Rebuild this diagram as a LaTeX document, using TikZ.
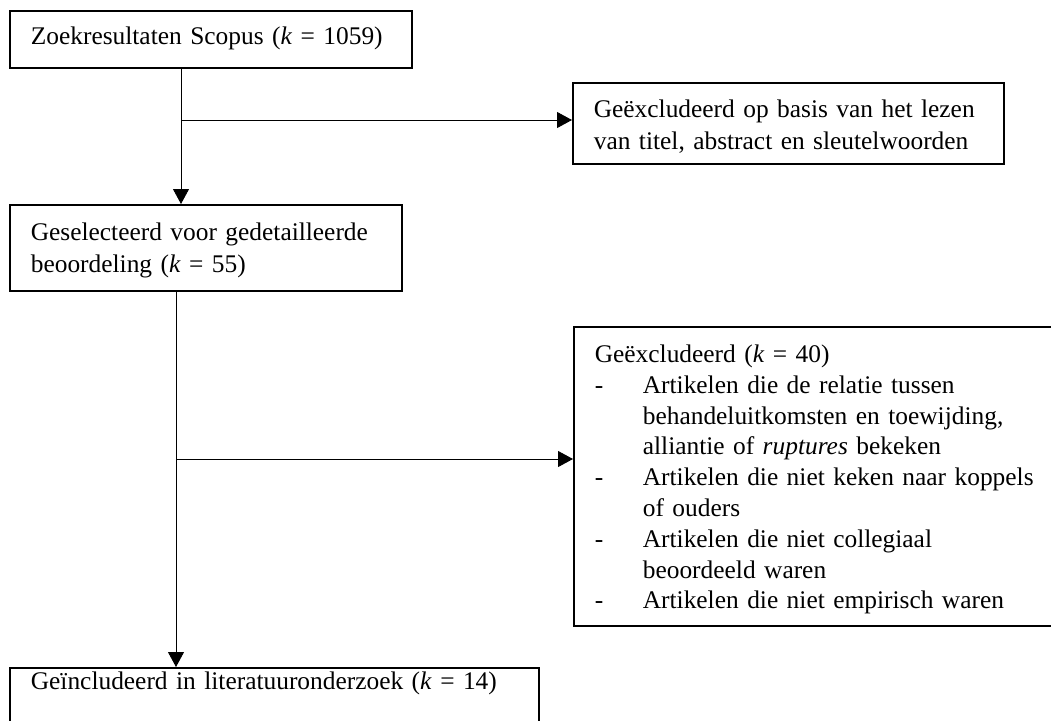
\documentclass[tikz,border=0pt]{standalone}
\usepackage{fontspec}
\setmainfont{Liberation Serif}
\usetikzlibrary{arrows.meta}
\tikzset{
  box/.style={draw, line width=0.85pt, anchor=north west, align=left, inner xsep=10.5pt,
    inner ysep=0pt, font=\fontsize{12.7pt}{16pt}\selectfont},
  conn/.style={line width=0.45pt},
  arr/.style={conn, -{Triangle[length=7.5pt,width=8pt]}}
}
\newcommand{\ind}{\hspace*{24pt}}
\newcommand{\itm}{\makebox[24pt][l]{-}}
\begin{document}
\begin{tikzpicture}[x=0.5pt,y=-0.5pt]
\useasboundingbox (0,0) rectangle (1051,720);
\clip (0,0) rectangle (1051,720);
\node[box, text width=180pt, text height=17pt, text depth=11.5pt] (n1) at (9,10)
  {\mbox{Zoekresultaten Scopus (\textit{k} = 1059)}};
\node[box, text width=194.5pt, text height=17.5pt, text depth=23pt] (n2) at (572,82)
  {\mbox{Geëxcludeerd op basis van het lezen}\\\mbox{van titel, abstract en sleutelwoorden}};
\node[box, text width=175pt, text height=18pt, text depth=25pt] (n3) at (9,204)
  {\mbox{Geselecteerd voor gedetailleerde}\\\mbox{beoordeling (\textit{k} = 55)}};
\node[box, text width=243.5pt, text height=11pt, text depth=30pt] (n4) at (9,667)
  {\mbox{Geïncludeerd in literatuuronderzoek (\textit{k} = 14)}};
\node[box, text width=240pt, text height=17.85pt, text depth=131.65pt,
      font=\fontsize{12.7pt}{15.4pt}\selectfont] (n5) at (573,326)
  {\mbox{Geëxcludeerd (\textit{k} = 40)}\\
   \mbox{\itm Artikelen die de relatie tussen}\\
   \mbox{\ind behandeluitkomsten en toewijding,}\\
   \mbox{\ind alliantie of \textit{ruptures} bekeken}\\
   \mbox{\itm Artikelen die niet keken naar koppels}\\
   \mbox{\ind of ouders}\\
   \mbox{\itm Artikelen die niet collegiaal}\\
   \mbox{\ind beoordeeld waren}\\
   \mbox{\itm Artikelen die niet empirisch waren}};
\coordinate (b1) at (181,120);
\coordinate (b2) at (176,459);
\draw[arr] (b1 |- n1.south) -- (b1 |- n3.north);
\draw[arr] (b1) -- (b1 -| n2.west);
\draw[arr] (b2 |- n3.south) -- (b2 |- n4.north);
\draw[arr] (b2) -- (b2 -| n5.west);
\end{tikzpicture}
\end{document}
